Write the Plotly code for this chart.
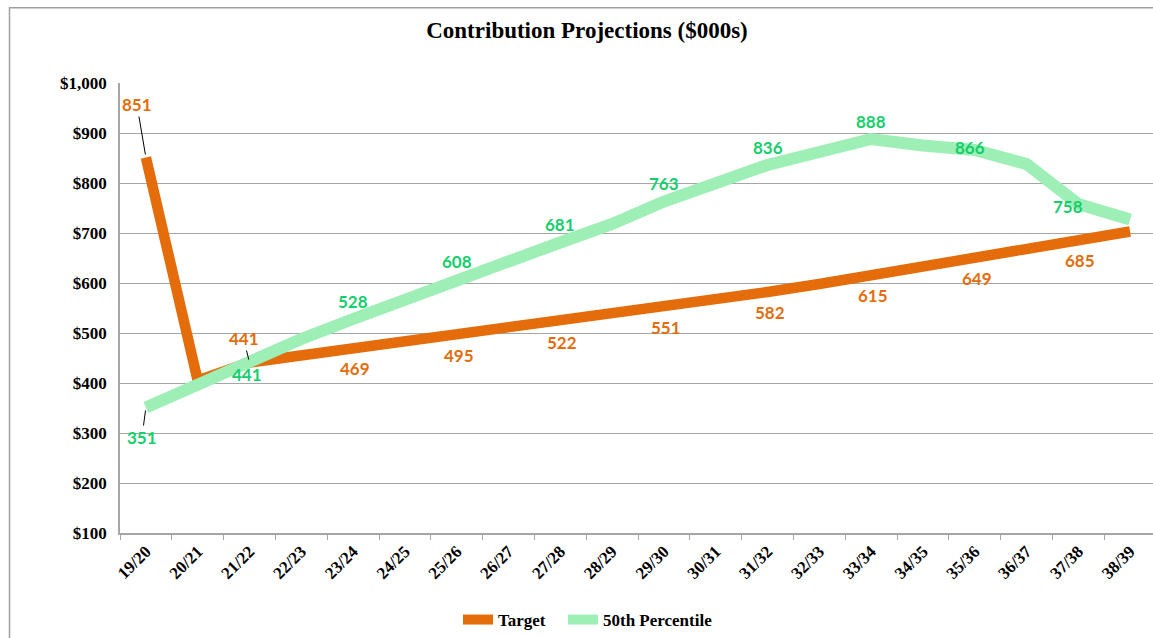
import plotly.graph_objects as go

categories = ["19/20", "20/21", "21/22", "22/23", "23/24", "24/25", "25/26", "26/27", "27/28", "28/29",
              "29/30", "30/31", "31/32", "32/33", "33/34", "34/35", "35/36", "36/37", "37/38", "38/39"]
target = [851, 405, 441, 455, 469, 482, 495, 508, 522, 536, 551, 566, 582, 598, 615, 632, 649, 667, 685, 703]
p50 = [351, 397, 441, 488, 528, 568, 608, 643, 681, 718, 763, 800, 836, 862, 888, 875, 866, 838, 758, 727]
labelled = [0, 2, 4, 6, 8, 10, 12, 14, 16, 18]
y_ticks = [100, 200, 300, 400, 500, 600, 700, 800, 900, 1000]
y_tick_text = ["$100", "$200", "$300", "$400", "$500", "$600", "$700", "$800", "$900", "$1,000"]

ORANGE = "#E46C0A"
GREEN_LINE = "#9DEFB5"
GREEN_TEXT = "#13CF6B"

# label placement (pixel offsets from the point: dx right, dy down), leader flag
t_place = {0: (-9, -53, True), 2: (-6, -24, True)}
g_place = {0: (-4, 30, True), 2: (-3, 12, False), 16: (-5, -3, False), 18: (-10, 2, False)}

fig = go.Figure()
fig.add_trace(go.Scatter(x=categories, y=target, mode="lines", name="Target", legend="legend",
                         line=dict(color=ORANGE, width=10.5)))
fig.add_trace(go.Scatter(x=categories, y=p50, mode="lines", name="50th Percentile", legend="legend2",
                         line=dict(color=GREEN_LINE, width=12)))

label_font = dict(family="Lato", size=17, weight="bold")


def make_ann(xv, yv, color, place):
    dx, dy, lead = place
    base = dict(x=xv, y=yv, text=str(yv), font=dict(color=color, **label_font))
    if lead:
        base.update(showarrow=True, ax=dx, ay=dy, arrowhead=0, arrowwidth=1,
                    arrowcolor="black", standoff=3)
    else:
        base.update(showarrow=False, xshift=dx, yshift=-dy)
    return base


anns = []
for i in labelled:
    anns.append(make_ann(categories[i], target[i], ORANGE, t_place.get(i, (2, 20, False))))
for i in labelled:
    anns.append(make_ann(categories[i], p50[i], GREEN_TEXT, g_place.get(i, (0, -18, False))))

W, H, L, R, T, B = 1153, 638, 120, 0, 83, 104
pw, ph = W - L - R, H - T - B


def px(xp):
    return (xp - L) / pw


def py(yp):
    return (H - B - yp) / ph


serif_bold = dict(family="Liberation Serif", color="black", weight="bold")
legend_style = dict(orientation="h", xanchor="left", yanchor="middle", y=py(621),
                    font=dict(size=17, **serif_bold), bgcolor="rgba(0,0,0,0)", itemwidth=30)

fig.update_layout(
    width=W, height=H,
    margin=dict(l=L, r=R, t=T, b=B, pad=0),
    paper_bgcolor="white", plot_bgcolor="white",
    title=dict(text="Contribution Projections ($000s)", x=587 / W, xanchor="center",
               y=1 - 30 / H, yanchor="middle", font=dict(size=23, **serif_bold)),
    xaxis=dict(type="category", categoryorder="array", categoryarray=categories,
               range=[-0.5, -0.5 + pw / 51.8], tickson="boundaries", ticks="outside", ticklen=5,
               tickcolor="#A6A6A6", tickangle=-45, showgrid=False, showline=True,
               linecolor="#A6A6A6", linewidth=1.5,
               tickfont=dict(size=17, **serif_bold)),
    yaxis=dict(range=[100, 1000], tickvals=y_ticks, ticktext=y_tick_text,
               showgrid=True, gridcolor="#A6A6A6", gridwidth=1.2, showline=True,
               linecolor="#A6A6A6", linewidth=1.5, zeroline=False, ticks="",
               ticklabelstandoff=8,
               tickfont=dict(size=17, **serif_bold)),
    showlegend=True,
    legend=dict(x=px(458), **legend_style),
    legend2=dict(x=px(563), **legend_style),
    annotations=anns,
    shapes=[dict(type="rect", xref="paper", yref="paper", x0=px(9.5), x1=px(1170),
                 y0=py(660), y1=py(7.5), line=dict(color="#A0A0A0", width=1.5),
                 fillcolor="rgba(0,0,0,0)", layer="below")],
)

fig.write_html("out.html", config={"displayModeBar": False},
               post_script="document.body.style.margin='0';")
